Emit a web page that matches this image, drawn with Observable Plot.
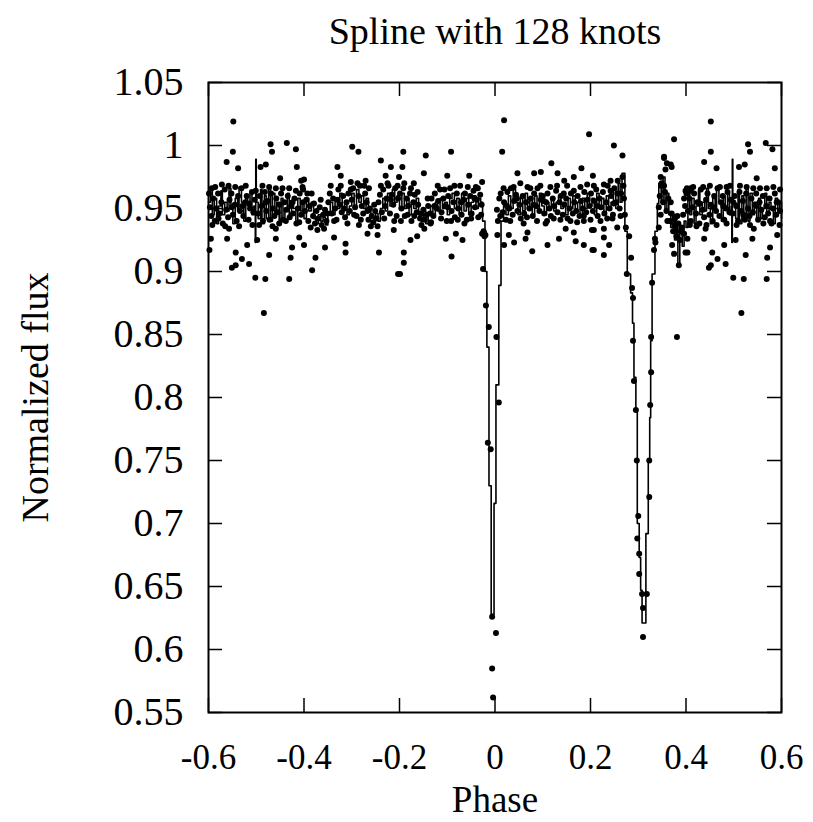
<!DOCTYPE html>
<html><head><meta charset="utf-8">
<script src="https://cdn.jsdelivr.net/npm/d3@7"></script>
<script src="https://cdn.jsdelivr.net/npm/@observablehq/plot@0.6"></script>
<style>body{margin:0;background:#fff}</style>
</head><body><div id="chart"></div>
<script>
const title = "Spline with 128 knots";
const xLabel = "Phase";
const yLabel = "Normalized flux";
const xTicks = [-0.6, -0.4, -0.2, 0, 0.2, 0.4, 0.6];
const xTickLabels = ["-0.6", "-0.4", "-0.2", "0", "0.2", "0.4", "0.6"];
const yTicks = [0.55, 0.6, 0.65, 0.7, 0.75, 0.8, 0.85, 0.9, 0.95, 1, 1.05];
const yTickLabels = ["0.55", "0.6", "0.65", "0.7", "0.75", "0.8", "0.85", "0.9", "0.95", "1", "1.05"];

// spline evaluated (phase, flux), drawn as step-after
const splineKnots = [
[-0.600,0.955],[-0.596,0.966],[-0.592,0.945],[-0.588,0.958],[-0.583,0.938],[-0.579,0.952],[-0.574,0.964],[-0.571,0.945],
[-0.566,0.955],[-0.561,0.948],[-0.557,0.966],[-0.553,0.950],[-0.549,0.938],[-0.544,0.958],[-0.539,0.948],[-0.536,0.967],
[-0.531,0.955],[-0.526,0.940],[-0.522,0.960],[-0.518,0.952],[-0.513,0.962],[-0.509,0.945],[-0.505,0.952],[-0.502,0.923],
[-0.501,0.989],[-0.500,0.955],[-0.496,0.942],[-0.491,0.965],[-0.488,0.938],[-0.483,0.960],[-0.479,0.942],[-0.474,0.966],
[-0.470,0.940],[-0.466,0.962],[-0.461,0.945],[-0.457,0.955],[-0.452,0.940],[-0.448,0.958],[-0.444,0.942],[-0.440,0.950],
[-0.435,0.962],[-0.431,0.945],[-0.426,0.955],[-0.422,0.950],[-0.417,0.938],[-0.413,0.958],[-0.408,0.948],[-0.404,0.955],
[-0.400,0.942],[-0.395,0.958],[-0.390,0.948],[-0.385,0.955],[-0.380,0.942],[-0.375,0.938],[-0.370,0.945],[-0.365,0.940],
[-0.360,0.943],[-0.355,0.937],[-0.350,0.945],[-0.345,0.955],[-0.340,0.945],[-0.335,0.958],[-0.330,0.950],[-0.325,0.962],
[-0.320,0.948],[-0.315,0.955],[-0.310,0.945],[-0.305,0.952],[-0.300,0.962],[-0.295,0.950],[-0.290,0.965],[-0.285,0.955],
[-0.280,0.960],[-0.275,0.950],[-0.270,0.958],[-0.265,0.948],[-0.260,0.945],[-0.255,0.942],[-0.250,0.946],[-0.245,0.940],
[-0.240,0.950],[-0.235,0.958],[-0.230,0.948],[-0.225,0.962],[-0.220,0.952],[-0.215,0.965],[-0.210,0.955],[-0.205,0.960],
[-0.200,0.950],[-0.195,0.962],[-0.190,0.950],[-0.185,0.958],[-0.180,0.945],[-0.175,0.955],[-0.170,0.950],[-0.165,0.958],
[-0.160,0.945],[-0.155,0.940],[-0.150,0.948],[-0.145,0.938],[-0.140,0.945],[-0.135,0.952],[-0.130,0.945],[-0.125,0.955],
[-0.120,0.948],[-0.115,0.958],[-0.110,0.950],[-0.105,0.955],[-0.100,0.945],[-0.095,0.958],[-0.090,0.962],[-0.085,0.950],
[-0.080,0.958],[-0.075,0.945],[-0.070,0.962],[-0.065,0.948],[-0.060,0.958],[-0.055,0.945],[-0.050,0.955],[-0.045,0.960],
[-0.040,0.950],[-0.035,0.958],[-0.030,0.955],[-0.026,0.940],[-0.021,0.900],[-0.017,0.840],[-0.0126,0.730],[-0.008,0.628],
[-0.002,0.716],[0.002,0.810],[0.008,0.889],[0.0126,0.940],[0.018,0.955],[0.023,0.945],[0.028,0.960],[0.033,0.950],
[0.038,0.965],[0.043,0.955],[0.048,0.945],[0.053,0.958],[0.058,0.948],[0.063,0.962],[0.068,0.950],[0.073,0.958],
[0.078,0.945],[0.083,0.960],[0.088,0.950],[0.093,0.962],[0.098,0.952],[0.103,0.945],[0.108,0.955],[0.113,0.950],
[0.118,0.958],[0.123,0.948],[0.128,0.955],[0.133,0.960],[0.138,0.950],[0.143,0.955],[0.148,0.945],[0.153,0.958],
[0.158,0.950],[0.163,0.960],[0.168,0.948],[0.173,0.955],[0.178,0.945],[0.183,0.958],[0.188,0.950],[0.193,0.962],
[0.198,0.952],[0.203,0.958],[0.208,0.945],[0.213,0.962],[0.218,0.950],[0.223,0.958],[0.228,0.945],[0.233,0.960],
[0.238,0.950],[0.243,0.955],[0.248,0.965],[0.253,0.950],[0.258,0.970],[0.262,0.955],[0.266,0.978],[0.272,0.932],
[0.277,0.898],[0.284,0.883],[0.288,0.859],[0.291,0.816],[0.295,0.790],[0.298,0.700],[0.302,0.673],[0.305,0.647],
[0.308,0.621],[0.316,0.692],[0.321,0.750],[0.324,0.784],[0.326,0.845],[0.329,0.898],[0.335,0.932],[0.340,0.954],
[0.343,0.970],[0.348,0.955],[0.352,0.975],[0.356,0.950],[0.360,0.962],[0.364,0.945],[0.368,0.935],[0.372,0.945],
[0.376,0.925],[0.380,0.935],[0.383,0.905],[0.387,0.930],[0.392,0.920],[0.396,0.940],[0.400,0.935],[0.404,0.966],
[0.408,0.945],[0.412,0.958],[0.417,0.938],[0.421,0.952],[0.426,0.964],[0.429,0.945],[0.434,0.955],[0.439,0.948],
[0.443,0.966],[0.447,0.950],[0.451,0.938],[0.456,0.958],[0.461,0.948],[0.464,0.967],[0.469,0.955],[0.474,0.940],
[0.478,0.960],[0.482,0.952],[0.487,0.962],[0.491,0.945],[0.495,0.952],[0.496,0.923],[0.497,0.989],[0.498,0.955],
[0.504,0.942],[0.509,0.965],[0.512,0.938],[0.517,0.960],[0.521,0.942],[0.526,0.966],[0.530,0.940],[0.534,0.962],
[0.539,0.945],[0.543,0.955],[0.548,0.940],[0.552,0.958],[0.556,0.942],[0.560,0.950],[0.565,0.962],[0.569,0.945],
[0.574,0.955],[0.578,0.950],[0.583,0.938],[0.587,0.958],[0.592,0.948],[0.596,0.955],[0.600,0.942]
];

// scattered observations away from the dense band
const outlierPoints = [
[-0.548,1.019],[-0.549,0.995],[-0.562,0.987],[-0.538,0.982],[-0.470,1.001],[-0.467,0.995],[-0.436,1.002],[-0.417,0.997],
[-0.415,0.983],[-0.491,0.983],[-0.480,0.985],[-0.450,0.974],[-0.406,0.972],[-0.593,0.966],[-0.595,0.926],[-0.598,0.917],
[-0.561,0.926],[-0.557,0.934],[-0.543,0.915],[-0.519,0.921],[-0.498,0.925],[-0.459,0.934],[-0.459,0.926],[-0.473,0.913],
[-0.428,0.911],[-0.425,0.919],[-0.410,0.927],[-0.530,0.910],[-0.543,0.905],[-0.551,0.903],[-0.515,0.906],[-0.502,0.895],
[-0.481,0.894],[-0.431,0.894],[-0.484,0.867],
[-0.299,0.999],[-0.286,0.995],[-0.330,0.983],[-0.323,0.976],[-0.239,0.988],[-0.218,0.983],[-0.400,0.973],[-0.402,0.965],
[-0.271,0.972],[-0.264,0.966],[-0.302,0.971],[-0.229,0.976],[-0.400,0.921],[-0.376,0.911],[-0.356,0.919],[-0.383,0.901],
[-0.337,0.927],[-0.313,0.922],[-0.313,0.915],[-0.285,0.937],[-0.267,0.930],[-0.246,0.929],[-0.243,0.915],[-0.212,0.933],
[-0.203,0.898],
[-0.192,0.995],[-0.145,0.992],[-0.092,0.995],[-0.194,0.983],[-0.149,0.978],[-0.100,0.976],[-0.054,0.976],[-0.027,0.971],
[-0.040,0.967],[-0.170,0.970],[-0.201,0.975],[-0.177,0.925],[-0.163,0.928],[-0.191,0.915],[-0.191,0.907],[-0.199,0.898],
[-0.103,0.926],[-0.091,0.912],[-0.068,0.925],[-0.082,0.930],[-0.135,0.938],[-0.027,0.930],[-0.023,0.931],[-0.020,0.929],
[0.019,1.020],[0.015,0.995],[0.197,1.009],[0.118,0.986],[0.047,0.978],[0.131,0.978],[0.145,0.972],[0.165,0.975],
[0.181,0.982],[0.082,0.978],[0.096,0.979],[0.005,0.929],[0.019,0.921],[0.029,0.929],[0.040,0.923],[0.064,0.926],
[0.068,0.931],[0.078,0.916],[0.106,0.938],[0.110,0.921],[0.134,0.926],[0.148,0.934],[0.169,0.924],[0.186,0.921],
[0.204,0.917],[0.165,0.931],[0.186,0.940],[0.203,0.933],
[0.249,1.000],[0.267,0.992],[0.375,1.005],[0.354,0.991],[0.368,0.985],[0.357,0.981],[0.347,0.975],[0.205,0.976],
[0.242,0.972],[0.402,0.966],[0.207,0.933],[0.228,0.934],[0.228,0.927],[0.207,0.917],[0.228,0.913],[0.239,0.921],
[0.256,0.935],[0.246,0.942],[0.371,0.921],[0.399,0.915],[0.385,0.905],[0.375,0.914],[0.378,0.935],[0.336,0.923],
[0.343,0.935],[0.360,0.986],[0.370,0.983],[0.399,0.964],[0.410,0.964],[0.396,0.958],
[0.452,1.019],[0.452,0.995],[0.438,0.987],[0.464,0.982],[0.530,1.001],[0.534,0.995],[0.567,1.002],[0.581,0.997],
[0.586,0.982],[0.511,0.983],[0.523,0.985],[0.548,0.974],[0.410,0.966],[0.485,0.967],[0.597,0.965],[0.403,0.926],
[0.403,0.915],[0.438,0.926],[0.441,0.934],[0.455,0.915],[0.480,0.921],[0.504,0.925],[0.539,0.926],[0.542,0.934],
[0.525,0.913],[0.570,0.911],[0.576,0.919],[0.591,0.929],[0.466,0.910],[0.452,0.905],[0.448,0.903],[0.483,0.906],
[0.499,0.895],[0.521,0.894],[0.569,0.894],[0.516,0.867]
];

// observations inside the two eclipses
const eclipsePoints = [
[-0.025,0.902],[-0.019,0.873],[-0.013,0.856],[0.003,0.848],[0.008,0.796],[-0.015,0.764],[-0.009,0.759],[-0.006,0.626],
[0.002,0.613],[-0.006,0.585],[-0.004,0.562],
[0.281,0.928],[0.285,0.911],[0.276,0.898],[0.287,0.887],[0.289,0.879],[0.289,0.845],[0.291,0.813],[0.295,0.790],
[0.297,0.750],[0.300,0.706],[0.298,0.688],[0.302,0.676],[0.302,0.660],[0.308,0.644],[0.310,0.633],[0.310,0.610],
[0.318,0.644],[0.323,0.721],[0.323,0.750],[0.325,0.794],[0.327,0.820],[0.327,0.848],[0.329,0.891],[0.333,0.917],
[0.335,0.926],[0.343,0.951],[0.348,0.968],[0.354,0.990],[0.381,0.848]
];

// observations in the dense out-of-eclipse band
const bandPoints = [
[-0.597,0.951],[-0.594,0.944],[-0.590,0.958],[-0.587,0.940],[-0.584,0.950],[-0.580,0.962],[-0.577,0.946],[-0.573,0.955],
[-0.570,0.938],[-0.566,0.965],[-0.563,0.949],[-0.559,0.943],[-0.556,0.957],[-0.552,0.962],[-0.549,0.945],[-0.545,0.953],
[-0.541,0.940],[-0.538,0.960],[-0.534,0.948],[-0.531,0.966],[-0.527,0.944],[-0.523,0.955],[-0.520,0.960],[-0.516,0.941],
[-0.513,0.950],[-0.509,0.963],[-0.506,0.947],[-0.503,0.957],
[-0.496,0.946],[-0.493,0.960],[-0.489,0.952],[-0.486,0.940],[-0.482,0.963],[-0.479,0.948],[-0.476,0.956],[-0.472,0.941],
[-0.469,0.962],[-0.465,0.950],[-0.462,0.944],[-0.458,0.958],[-0.455,0.947],[-0.451,0.953],[-0.448,0.962],[-0.444,0.941],
[-0.441,0.955],[-0.437,0.949],[-0.434,0.960],[-0.430,0.943],[-0.427,0.952],[-0.423,0.946],[-0.420,0.958],[-0.416,0.938],
[-0.413,0.950],[-0.409,0.962],[-0.406,0.945],[-0.402,0.955],
[-0.398,0.948],[-0.395,0.957],[-0.391,0.940],[-0.388,0.952],[-0.384,0.962],[-0.381,0.944],[-0.377,0.938],[-0.374,0.948],
[-0.370,0.942],[-0.367,0.951],[-0.363,0.937],[-0.360,0.945],[-0.356,0.949],[-0.353,0.940],[-0.349,0.955],[-0.346,0.962],
[-0.342,0.946],[-0.339,0.958],[-0.335,0.950],[-0.332,0.941],[-0.328,0.965],[-0.325,0.953],[-0.321,0.947],[-0.318,0.960],
[-0.314,0.943],[-0.311,0.955],[-0.307,0.962],[-0.304,0.948],
[-0.300,0.957],[-0.297,0.966],[-0.293,0.951],[-0.290,0.944],[-0.286,0.960],[-0.283,0.968],[-0.279,0.952],[-0.276,0.946],
[-0.272,0.962],[-0.269,0.955],[-0.265,0.941],[-0.262,0.950],[-0.258,0.944],[-0.255,0.939],[-0.251,0.948],[-0.248,0.942],
[-0.244,0.955],[-0.241,0.961],[-0.237,0.947],[-0.234,0.965],[-0.230,0.952],[-0.227,0.958],[-0.223,0.968],[-0.220,0.946],
[-0.216,0.961],[-0.213,0.953],[-0.209,0.966],[-0.206,0.944],[-0.203,0.958],
[-0.199,0.962],[-0.196,0.950],[-0.192,0.966],[-0.189,0.944],[-0.185,0.958],[-0.182,0.952],[-0.178,0.962],[-0.175,0.940],
[-0.171,0.955],[-0.168,0.961],[-0.164,0.947],[-0.161,0.953],[-0.157,0.942],[-0.154,0.937],[-0.150,0.949],[-0.147,0.941],
[-0.143,0.945],[-0.140,0.952],[-0.136,0.946],[-0.133,0.958],[-0.129,0.944],[-0.126,0.962],[-0.122,0.950],[-0.119,0.956],
[-0.115,0.965],[-0.112,0.947],[-0.108,0.958],[-0.105,0.952],[-0.101,0.940],
[-0.098,0.960],[-0.094,0.966],[-0.091,0.948],[-0.087,0.955],[-0.084,0.943],[-0.080,0.962],[-0.077,0.950],[-0.073,0.968],
[-0.070,0.945],[-0.066,0.957],[-0.063,0.962],[-0.059,0.941],[-0.056,0.953],[-0.052,0.960],[-0.049,0.946],[-0.045,0.964],
[-0.042,0.951],[-0.038,0.957],[-0.035,0.943],[-0.031,0.961],[-0.028,0.953],[-0.024,0.932],[-0.022,0.928],
[0.006,0.940],[0.009,0.958],[0.012,0.962],[0.016,0.947],[0.019,0.955],[0.023,0.941],[0.026,0.963],[0.030,0.950],
[0.033,0.966],[0.037,0.945],[0.040,0.956],[0.044,0.961],[0.047,0.948],[0.051,0.953],[0.054,0.942],[0.058,0.960],
[0.061,0.946],[0.065,0.955],[0.068,0.967],[0.072,0.950],[0.075,0.958],[0.079,0.944],[0.082,0.962],[0.086,0.952],
[0.089,0.966],[0.093,0.948],[0.096,0.957],[0.100,0.960],
[0.103,0.946],[0.107,0.955],[0.110,0.962],[0.114,0.950],[0.117,0.944],[0.121,0.958],[0.124,0.952],[0.128,0.964],
[0.131,0.947],[0.135,0.955],[0.138,0.960],[0.142,0.945],[0.145,0.953],[0.149,0.958],[0.152,0.942],[0.156,0.950],
[0.159,0.962],[0.163,0.946],[0.166,0.955],[0.170,0.948],[0.173,0.960],[0.177,0.944],[0.180,0.956],[0.184,0.950],
[0.187,0.963],[0.191,0.947],[0.194,0.957],[0.198,0.952],
[0.201,0.962],[0.205,0.948],[0.208,0.956],[0.212,0.965],[0.215,0.944],[0.219,0.958],[0.222,0.951],[0.226,0.963],
[0.229,0.946],[0.233,0.955],[0.236,0.968],[0.240,0.950],[0.243,0.960],[0.247,0.945],[0.250,0.966],[0.254,0.955],
[0.257,0.972],[0.261,0.950],[0.264,0.962],[0.267,0.975],[0.270,0.958],[0.272,0.945],[0.274,0.935],
[0.345,0.960],[0.349,0.970],[0.352,0.955],[0.356,0.963],[0.359,0.948],[0.363,0.958],[0.366,0.940],[0.370,0.946],
[0.373,0.932],[0.377,0.942],[0.380,0.928],[0.384,0.938],[0.387,0.925],[0.391,0.935],[0.394,0.945],[0.398,0.952],
[0.404,0.948],[0.407,0.958],[0.410,0.940],[0.414,0.951],[0.417,0.962],[0.421,0.946],[0.424,0.955],[0.428,0.938],
[0.431,0.965],[0.435,0.949],[0.438,0.943],[0.442,0.957],[0.445,0.962],[0.449,0.945],[0.452,0.953],[0.456,0.940],
[0.459,0.960],[0.463,0.948],[0.466,0.966],[0.470,0.944],[0.473,0.955],[0.477,0.960],[0.480,0.941],[0.484,0.950],
[0.487,0.963],[0.491,0.947],[0.494,0.957],[0.498,0.946],
[0.502,0.960],[0.505,0.952],[0.509,0.940],[0.512,0.963],[0.516,0.948],[0.519,0.956],[0.523,0.941],[0.526,0.962],
[0.530,0.950],[0.533,0.944],[0.537,0.958],[0.540,0.947],[0.544,0.953],[0.547,0.962],[0.551,0.941],[0.554,0.955],
[0.558,0.949],[0.561,0.960],[0.565,0.943],[0.568,0.952],[0.572,0.946],[0.575,0.958],[0.579,0.938],[0.582,0.950],
[0.586,0.962],[0.589,0.945],[0.593,0.955],[0.597,0.948]
];

// more band observations, interleaved with the above
const bandPoints2 = [
[-0.599,0.962],[-0.592,0.937],[-0.586,0.967],[-0.579,0.942],[-0.572,0.969],[-0.565,0.936],[-0.558,0.968],[-0.551,0.951],
[-0.544,0.967],[-0.536,0.936],[-0.529,0.952],[-0.522,0.968],[-0.515,0.954],[-0.508,0.937],[-0.501,0.964],
[-0.494,0.937],[-0.487,0.968],[-0.480,0.955],[-0.473,0.967],[-0.466,0.936],[-0.459,0.966],[-0.452,0.938],[-0.445,0.966],
[-0.438,0.940],[-0.431,0.966],[-0.424,0.955],[-0.417,0.964],[-0.410,0.939],[-0.403,0.967],
[-0.393,0.962],[-0.386,0.935],[-0.379,0.954],[-0.372,0.933],[-0.365,0.957],[-0.358,0.934],[-0.351,0.946],[-0.344,0.968],
[-0.337,0.940],[-0.330,0.957],[-0.323,0.968],[-0.316,0.950],[-0.309,0.938],[-0.302,0.965],
[-0.295,0.945],[-0.288,0.970],[-0.281,0.941],[-0.274,0.968],[-0.267,0.948],[-0.260,0.936],[-0.253,0.953],[-0.246,0.936],
[-0.239,0.968],[-0.232,0.942],[-0.225,0.970],[-0.218,0.957],[-0.211,0.940],[-0.204,0.968],
[-0.197,0.940],[-0.190,0.970],[-0.183,0.945],[-0.176,0.966],[-0.169,0.944],[-0.162,0.963],[-0.155,0.946],[-0.148,0.934],
[-0.141,0.958],[-0.134,0.939],[-0.127,0.952],[-0.120,0.968],[-0.113,0.942],[-0.106,0.965],
[-0.099,0.951],[-0.092,0.940],[-0.085,0.968],[-0.078,0.941],[-0.071,0.955],[-0.064,0.938],[-0.057,0.967],[-0.050,0.942],
[-0.043,0.958],[-0.036,0.966],[-0.029,0.945],
[0.004,0.949],[0.011,0.944],[0.018,0.966],[0.025,0.952],[0.032,0.940],[0.039,0.967],[0.046,0.958],[0.053,0.970],
[0.060,0.938],[0.067,0.943],[0.074,0.966],[0.081,0.953],[0.088,0.940],[0.095,0.968],
[0.102,0.956],[0.109,0.940],[0.116,0.967],[0.123,0.942],[0.130,0.968],[0.137,0.941],[0.144,0.962],[0.151,0.968],
[0.158,0.940],[0.165,0.964],[0.172,0.939],[0.179,0.967],[0.186,0.944],[0.193,0.969],
[0.200,0.941],[0.207,0.968],[0.214,0.952],[0.221,0.940],[0.228,0.969],[0.235,0.942],[0.242,0.964],[0.249,0.954],
[0.256,0.962],[0.263,0.944],[0.269,0.968],
[0.347,0.945],[0.354,0.968],[0.361,0.940],[0.368,0.955],[0.375,0.938],[0.382,0.944],[0.389,0.932],[0.396,0.930],
[0.401,0.962],[0.408,0.937],[0.415,0.967],[0.422,0.936],[0.429,0.954],[0.436,0.967],[0.443,0.937],[0.450,0.968],
[0.457,0.951],[0.464,0.937],[0.471,0.967],[0.478,0.952],[0.485,0.938],[0.492,0.968],[0.499,0.955],
[0.506,0.937],[0.513,0.968],[0.520,0.945],[0.527,0.967],[0.534,0.937],[0.541,0.966],[0.548,0.952],[0.555,0.966],
[0.562,0.938],[0.569,0.966],[0.576,0.940],[0.583,0.967],[0.590,0.955],[0.596,0.937]
];

const W = 813, H = 822;
const mL = 208, mR = 32, mT = 82, mB = 110;
const fw = W - mL - mR, fh = H - mT - mB;
const tickLen = 14;
const serif = "'Liberation Serif', 'Times New Roman', serif";
const allPoints = [...bandPoints, ...bandPoints2, ...outlierPoints, ...eclipsePoints];
const xFmt = new Map(xTicks.map((t, i) => [t, xTickLabels[i]]));
const yFmt = new Map(yTicks.map((t, i) => [t, yTickLabels[i]]));

const chart = Plot.plot({
  width: W, height: H,
  marginLeft: mL, marginRight: mR, marginTop: mT, marginBottom: mB,
  x: {domain: [-0.6, 0.6]},
  y: {domain: [0.55, 1.05]},
  style: {fontFamily: serif, background: "white", color: "black", overflow: "visible"},
  marks: [
    Plot.line(splineKnots, {x: d => d[0], y: d => d[1], curve: "step-after", stroke: "black", strokeWidth: 1.6}),
    Plot.dot(allPoints, {x: d => d[0], y: d => d[1], r: 3, fill: "black", stroke: null}),
    Plot.tickY(yTicks, {y: d => d, insetRight: fw - tickLen, stroke: "black", strokeWidth: 1.5}),
    Plot.tickY(yTicks, {y: d => d, insetLeft: fw - tickLen, stroke: "black", strokeWidth: 1.5}),
    Plot.tickX(xTicks, {x: d => d, insetTop: fh - tickLen, stroke: "black", strokeWidth: 1.5}),
    Plot.tickX(xTicks, {x: d => d, insetBottom: fh - tickLen, stroke: "black", strokeWidth: 1.5}),
    Plot.frame({stroke: "black", strokeWidth: 2}),
    Plot.axisX({ticks: xTicks, tickSize: 0, tickPadding: 32, tickFormat: d => xFmt.get(d), fontSize: 35, fontFamily: serif, label: null}),
    Plot.axisY({ticks: yTicks, tickSize: 0, tickPadding: 25, tickFormat: d => yFmt.get(d), fontSize: 40, fontFamily: serif, label: null}),
    Plot.text([title], {frameAnchor: "top", lineAnchor: "middle", textAnchor: "middle", dy: -51, fontSize: 38, fontFamily: serif, fill: "black"}),
    Plot.text([xLabel], {frameAnchor: "bottom", lineAnchor: "middle", textAnchor: "middle", dy: 88, fontSize: 37, fontFamily: serif, fill: "black"}),
    Plot.text([yLabel], {frameAnchor: "left", lineAnchor: "middle", textAnchor: "middle", dx: -173, rotate: -90, fontSize: 38, fontFamily: serif, fill: "black"})
  ]
});
document.getElementById("chart").appendChild(chart);
</script>
</body></html>
